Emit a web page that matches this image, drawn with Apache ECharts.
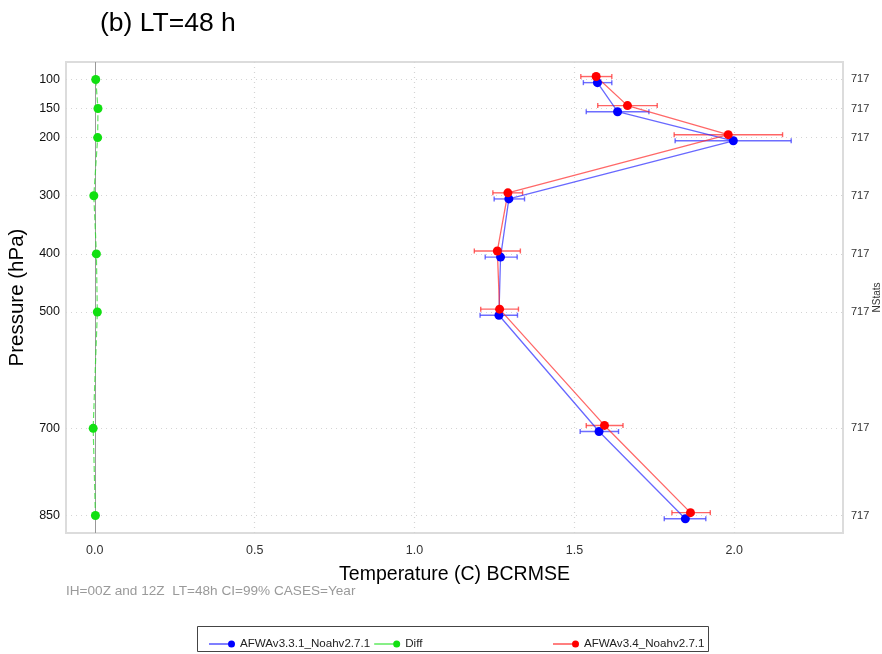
<!DOCTYPE html>
<html>
<head>
<meta charset="utf-8">
<script src="https://cdn.jsdelivr.net/npm/echarts@6/dist/echarts.min.js"></script>
<style>html,body{margin:0;padding:0;background:#fff;}#c{width:882px;height:654px;}</style>
</head>
<body>
<div id="c"></div>
<script>
// ---- data ----
var levels = [100, 150, 200, 300, 400, 500, 700, 850];
var nstats = [717, 717, 717, 717, 717, 717, 717, 717];
var xTicks = [0, 0.5, 1.0, 1.5, 2.0];

var blueName = 'AFWAv3.3.1_Noahv2.7.1';
var blueVals = [1.572, 1.635, 1.997, 1.295, 1.269, 1.264, 1.577, 1.847];
var blueLo   = [1.528, 1.537, 1.815, 1.249, 1.221, 1.205, 1.518, 1.781];
var blueHi   = [1.617, 1.733, 2.178, 1.344, 1.321, 1.322, 1.638, 1.911];

var redName = 'AFWAv3.4_Noahv2.7.1';
var redVals = [1.568, 1.666, 1.981, 1.292, 1.259, 1.266, 1.594, 1.863];
var redLo   = [1.520, 1.573, 1.812, 1.245, 1.187, 1.207, 1.537, 1.805];
var redHi   = [1.617, 1.759, 2.151, 1.338, 1.331, 1.325, 1.652, 1.925];

var diffName = 'Diff';
var diffVals = [0.003, 0.010, 0.009, -0.003, 0.005, 0.008, -0.005, 0.002];

// ---- presentation ----
var FONT = '"Liberation Sans", Arial, sans-serif';
var blueOffset = 5.5;   // vertical dodge (hPa) so series don't overlap
var redOffset = -5;
var BLUE = '#0000ff', RED = '#ff0000', GREEN = '#11e011';

function pts(vals, off) { return vals.map(function (v, i) { return [v, levels[i] + off]; }); }
function bars(lo, hi, off) { return lo.map(function (l, i) { return [l, hi[i], levels[i] + off]; }); }

function errRender(color) {
  return function (params, api) {
    var y = api.value(2);
    var p1 = api.coord([api.value(0), y]);
    var p2 = api.coord([api.value(1), y]);
    var h = 2.5;
    var st = { stroke: color, lineWidth: 1.4 };
    return { type: 'group', children: [
      { type: 'line', shape: { x1: p1[0], y1: p1[1], x2: p2[0], y2: p2[1] }, style: st },
      { type: 'line', shape: { x1: p1[0], y1: p1[1] - h, x2: p1[0], y2: p1[1] + h }, style: st },
      { type: 'line', shape: { x1: p2[0], y1: p2[1] - h, x2: p2[0], y2: p2[1] + h }, style: st }
    ]};
  };
}

var ICON = 'path://M0,3.5 L22,3.5 L22,4.5 L0,4.5 Z M19,4 A3.5,3.5 0 1,1 26,4 A3.5,3.5 0 1,1 19,4 Z';
var legendItemStyle = { borderWidth: 0 };

var chart = echarts.init(document.getElementById('c'), null, { renderer: 'canvas' });
var option = {
  animation: false,
  backgroundColor: '#fff',
  textStyle: { fontFamily: FONT },
  title: [
    { text: '(b) LT=48 h', left: 95, top: 5, textStyle: { fontSize: 26.5, fontWeight: 'normal', color: '#000', fontFamily: FONT } },
    { text: 'IH=00Z and 12Z  LT=48h CI=99% CASES=Year', left: 61, top: 579, textStyle: { fontSize: 13.6, fontWeight: 'normal', color: '#9a9a9a', fontFamily: FONT } }
  ],
  legend: [
    { left: 204, top: 633, itemWidth: 26, itemHeight: 8, itemGap: 4, icon: ICON, itemStyle: legendItemStyle,
      data: [blueName, diffName], textStyle: { fontSize: 11.6, color: '#222', fontFamily: FONT } },
    { left: 548, top: 633, itemWidth: 26, itemHeight: 8, icon: ICON, itemStyle: legendItemStyle,
      data: [redName], textStyle: { fontSize: 11.6, color: '#222', fontFamily: FONT } }
  ],
  graphic: [
    { type: 'rect', shape: { x: 197.5, y: 626.5, width: 511, height: 25 }, style: { fill: 'none', stroke: '#444', lineWidth: 1 }, silent: true }
  ],
  grid: { left: 66, right: 39, top: 62, bottom: 121, outerBoundsMode: 'none', containLabel: false,
    show: true, borderColor: '#dcdcdc', borderWidth: 2, backgroundColor: 'transparent' },
  xAxis: {
    type: 'value', min: -0.09, max: 2.34,
    axisLine: { show: false }, axisTick: { show: false }, splitLine: { show: false },
    axisLabel: { customValues: xTicks, formatter: function (v) { return v.toFixed(1); }, margin: 11, fontSize: 12.5, color: '#333', fontFamily: FONT },
    name: 'Temperature (C) BCRMSE', nameLocation: 'middle', nameGap: 32,
    nameTextStyle: { fontSize: 19.5, color: '#000', fontFamily: FONT }
  },
  yAxis: [
    { type: 'value', inverse: true, min: 70, max: 880, position: 'left',
      axisLine: { show: false }, axisTick: { show: false }, splitLine: { show: false },
      axisLabel: { customValues: levels, margin: 6, fontSize: 12.5, color: '#111', fontFamily: FONT },
      name: 'Pressure (hPa)', nameLocation: 'middle', nameGap: 35,
      nameTextStyle: { fontSize: 20.5, color: '#000', fontFamily: FONT } },
    { type: 'value', inverse: true, min: 70, max: 880, position: 'right',
      axisLine: { show: false }, axisTick: { show: false }, splitLine: { show: false },
      axisLabel: { customValues: levels, margin: 8, fontSize: 11, color: '#333', fontFamily: FONT,
        formatter: function (v) { var i = levels.indexOf(v); return i >= 0 ? String(nstats[i]) : ''; } },
      name: 'NStats', nameLocation: 'middle', nameGap: 29, nameRotate: 90, nameMoveOverlap: false,
      nameTextStyle: { fontSize: 10, color: '#333', fontFamily: FONT } }
  ],
  series: [
    { name: '_grid', type: 'line', data: [], silent: true, z: 1,
      markLine: { silent: true, symbol: 'none', label: { show: false }, z: 1, animation: false,
        lineStyle: { color: '#d4d4d4', type: [1, 4], width: 1.2 },
        data: levels.map(function (p) { return { yAxis: p }; })
          .concat(xTicks.filter(function (v) { return v !== 0; }).map(function (v) { return { xAxis: v }; }))
          .concat([{ xAxis: 0, lineStyle: { color: '#999', type: 'solid', width: 1 } }]) } },
    { name: blueName + '_err', type: 'custom', renderItem: errRender('rgba(60,60,255,0.75)'), data: bars(blueLo, blueHi, blueOffset), encode: { x: [0, 1], y: 2 }, z: 3, silent: true },
    { name: redName + '_err', type: 'custom', renderItem: errRender('rgba(255,50,50,0.75)'), data: bars(redLo, redHi, redOffset), encode: { x: [0, 1], y: 2 }, z: 3, silent: true },
    { name: blueName, type: 'line', data: pts(blueVals, blueOffset), symbol: 'circle', symbolSize: 9, showSymbol: true, z: 4,
      itemStyle: { color: BLUE }, lineStyle: { color: 'rgba(40,40,255,0.7)', width: 1.3 } },
    { name: diffName, type: 'line', data: pts(diffVals, 0), symbol: 'circle', symbolSize: 9, showSymbol: true, z: 4,
      itemStyle: { color: GREEN }, lineStyle: { color: 'rgba(40,220,40,0.75)', width: 1.2, type: [6, 3] } },
    { name: redName, type: 'line', data: pts(redVals, redOffset), symbol: 'circle', symbolSize: 9, showSymbol: true, z: 4,
      itemStyle: { color: RED }, lineStyle: { color: 'rgba(255,40,40,0.7)', width: 1.3 } }
  ]
};
chart.setOption(option);
</script>
</body>
</html>
